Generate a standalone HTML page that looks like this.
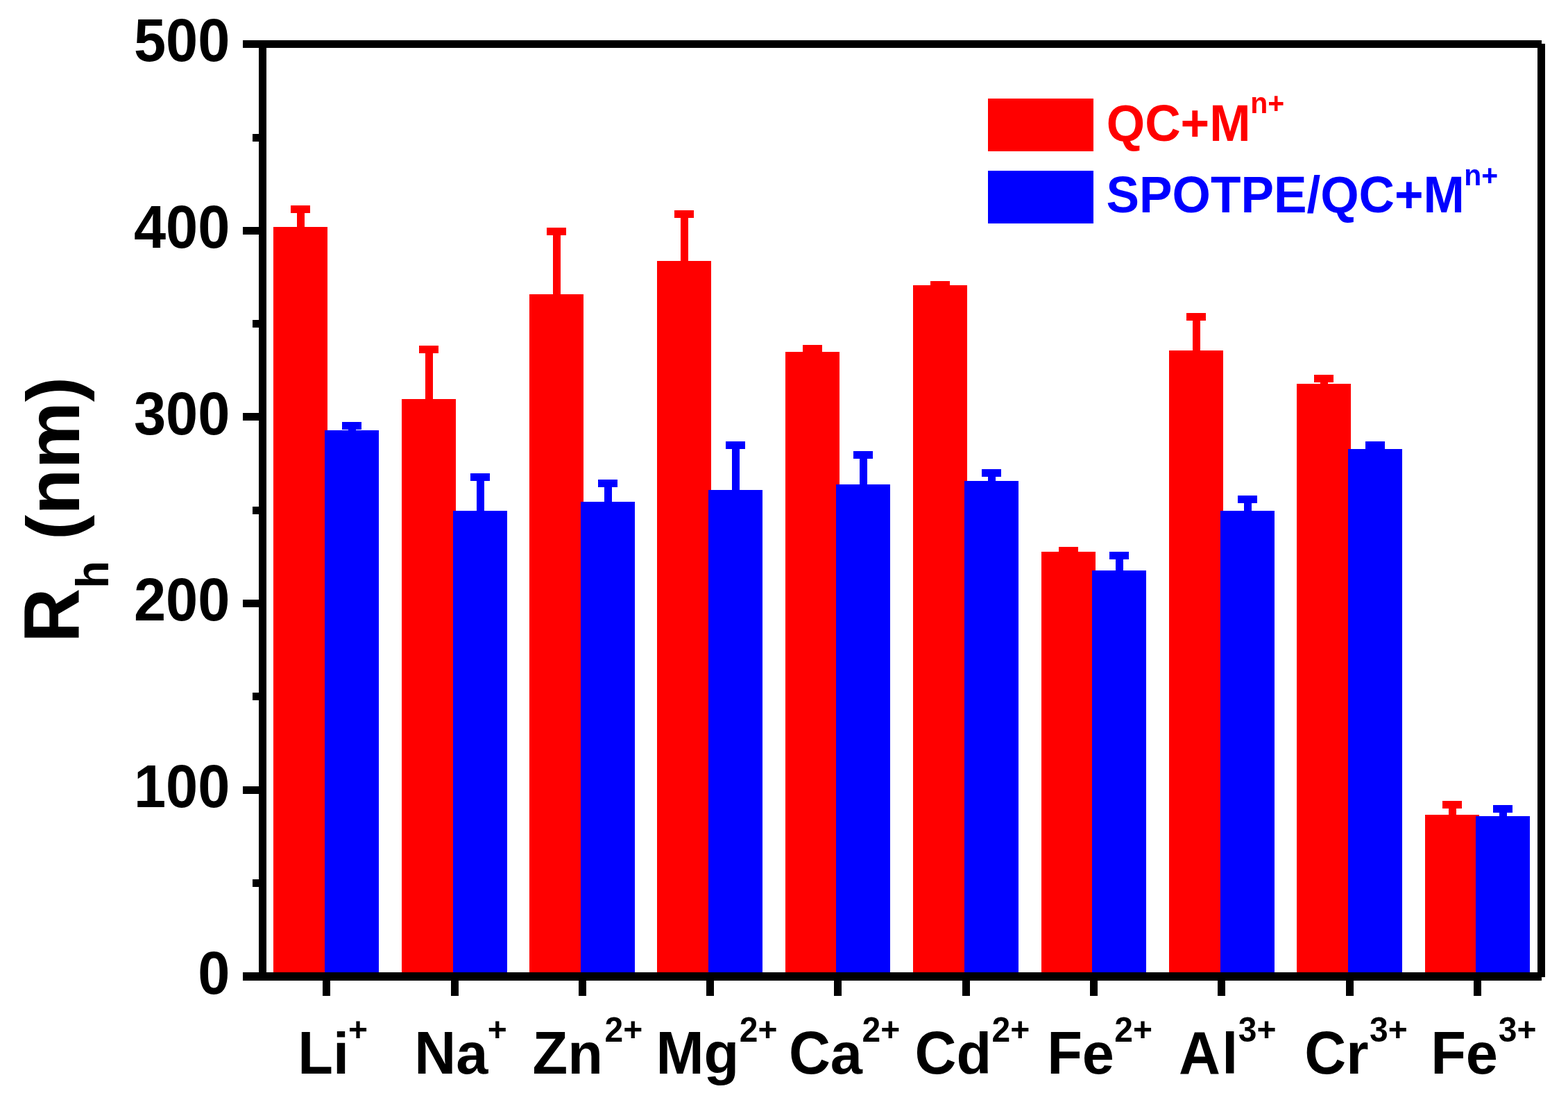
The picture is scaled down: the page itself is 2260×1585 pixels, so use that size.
<!DOCTYPE html>
<html><head><meta charset="utf-8"><title>Rh bar chart</title>
<style>html,body{margin:0;padding:0;background:#fff;overflow:hidden}svg{display:block}text{font-family:"Liberation Sans",Arial,Helvetica,sans-serif;font-weight:bold}</style></head>
<body>
<svg width="2260" height="1585" viewBox="0 0 2260 1585" shape-rendering="crispEdges">
<rect x="0" y="0" width="2260" height="1585" fill="#fff"/>
<g id="bars">
<rect x="394" y="327" width="78" height="1074" fill="#ff0000"/><rect x="427.5" y="296" width="11" height="32" fill="#ff0000"/><rect x="419" y="296" width="28" height="11" fill="#ff0000"/><rect x="468" y="620" width="78" height="781" fill="#0000ff"/><rect x="501.5" y="608" width="11" height="13" fill="#0000ff"/><rect x="493" y="608" width="28" height="11" fill="#0000ff"/>
<rect x="579" y="575" width="78" height="826" fill="#ff0000"/><rect x="612.5" y="498" width="11" height="78" fill="#ff0000"/><rect x="604" y="498" width="28" height="11" fill="#ff0000"/><rect x="653" y="736" width="78" height="665" fill="#0000ff"/><rect x="686.5" y="682" width="11" height="55" fill="#0000ff"/><rect x="678" y="682" width="28" height="11" fill="#0000ff"/>
<rect x="763" y="424" width="78" height="977" fill="#ff0000"/><rect x="796.5" y="328" width="11" height="97" fill="#ff0000"/><rect x="788" y="328" width="28" height="11" fill="#ff0000"/><rect x="837" y="723" width="78" height="678" fill="#0000ff"/><rect x="870.5" y="691" width="11" height="33" fill="#0000ff"/><rect x="862" y="691" width="28" height="11" fill="#0000ff"/>
<rect x="947" y="376" width="78" height="1025" fill="#ff0000"/><rect x="980.5" y="303" width="11" height="74" fill="#ff0000"/><rect x="972" y="303" width="28" height="11" fill="#ff0000"/><rect x="1021" y="706" width="78" height="695" fill="#0000ff"/><rect x="1054.5" y="636" width="11" height="71" fill="#0000ff"/><rect x="1046" y="636" width="28" height="11" fill="#0000ff"/>
<rect x="1132" y="507" width="78" height="894" fill="#ff0000"/><rect x="1157" y="497" width="28" height="11" fill="#ff0000"/><rect x="1205" y="698" width="78" height="703" fill="#0000ff"/><rect x="1238.5" y="650" width="11" height="49" fill="#0000ff"/><rect x="1230" y="650" width="28" height="11" fill="#0000ff"/>
<rect x="1316" y="411" width="78" height="990" fill="#ff0000"/><rect x="1341" y="405" width="28" height="11" fill="#ff0000"/><rect x="1390" y="693" width="78" height="708" fill="#0000ff"/><rect x="1423.5" y="676" width="11" height="18" fill="#0000ff"/><rect x="1415" y="676" width="28" height="11" fill="#0000ff"/>
<rect x="1501" y="795" width="78" height="606" fill="#ff0000"/><rect x="1526" y="788" width="28" height="11" fill="#ff0000"/><rect x="1574" y="822" width="78" height="579" fill="#0000ff"/><rect x="1607.5" y="795" width="11" height="28" fill="#0000ff"/><rect x="1599" y="795" width="28" height="11" fill="#0000ff"/>
<rect x="1685" y="505" width="78" height="896" fill="#ff0000"/><rect x="1718.5" y="451" width="11" height="55" fill="#ff0000"/><rect x="1710" y="451" width="28" height="11" fill="#ff0000"/><rect x="1759" y="736" width="78" height="665" fill="#0000ff"/><rect x="1792.5" y="714" width="11" height="23" fill="#0000ff"/><rect x="1784" y="714" width="28" height="11" fill="#0000ff"/>
<rect x="1869" y="553" width="78" height="848" fill="#ff0000"/><rect x="1902.5" y="540" width="11" height="14" fill="#ff0000"/><rect x="1894" y="540" width="28" height="11" fill="#ff0000"/><rect x="1943" y="647" width="78" height="754" fill="#0000ff"/><rect x="1968" y="636" width="28" height="11" fill="#0000ff"/>
<rect x="2054" y="1174" width="78" height="227" fill="#ff0000"/><rect x="2087.5" y="1154" width="11" height="21" fill="#ff0000"/><rect x="2079" y="1154" width="28" height="11" fill="#ff0000"/><rect x="2127" y="1176" width="78" height="225" fill="#0000ff"/><rect x="2160.5" y="1160" width="11" height="17" fill="#0000ff"/><rect x="2152" y="1160" width="28" height="11" fill="#0000ff"/>
</g>
<g id="axes" fill="#000">
<rect x="350" y="58" width="1872" height="11"/>
<rect x="350" y="1401" width="1872" height="12"/>
<rect x="373" y="58" width="11" height="1355"/>
<rect x="2216" y="63" width="11" height="1345"/>
<rect x="350" y="1133" width="24" height="11"/><rect x="350" y="864" width="24" height="11"/><rect x="350" y="595" width="24" height="11"/><rect x="350" y="327" width="24" height="11"/><rect x="364" y="1267" width="10" height="11"/><rect x="364" y="998" width="10" height="11"/><rect x="364" y="730" width="10" height="11"/><rect x="364" y="461" width="10" height="11"/><rect x="364" y="193" width="10" height="11"/>
<rect x="465.1" y="1412" width="11" height="23"/><rect x="649.5" y="1412" width="11" height="23"/><rect x="833.8" y="1412" width="11" height="23"/><rect x="1018.1" y="1412" width="11" height="23"/><rect x="1202.3" y="1412" width="11" height="23"/><rect x="1386.7" y="1412" width="11" height="23"/><rect x="1571.0" y="1412" width="11" height="23"/><rect x="1755.2" y="1412" width="11" height="23"/><rect x="1939.6" y="1412" width="11" height="23"/><rect x="2123.8" y="1412" width="11" height="23"/>
</g>
<g id="yticklabels" font-size="83" text-anchor="end" fill="#000">
<text transform="translate(331.4 1431.8) scale(1 1.04)">0</text>
<text transform="translate(331.4 1163.1) scale(1 1.04)">100</text>
<text transform="translate(331.4 894.4) scale(1 1.04)">200</text>
<text transform="translate(331.4 625.7) scale(1 1.04)">300</text>
<text transform="translate(331.4 357.0) scale(1 1.04)">400</text>
<text transform="translate(331.4 88.3) scale(1 1.04)">500</text>
</g>
<g id="xticklabels" fill="#000">
<text font-size="83" transform="translate(429.2 1547) scale(1 1.04)">L</text><text font-size="83" transform="translate(479.90 1547) scale(1 1.0)">i</text><text font-size="48" transform="translate(502.00 1500) scale(1 1.0)">+</text>
<text font-size="83" transform="translate(597.25 1547) scale(1 1.04)">N</text><text font-size="83" transform="translate(657.19 1547) scale(1 1.0)">a</text><text font-size="48" transform="translate(702.80 1500) scale(1 1.0)">+</text>
<text font-size="83" transform="translate(767.5 1547) scale(1 1.04)">Z</text><text font-size="83" transform="translate(818.20 1547) scale(1 1.0)">n</text><text font-size="48" transform="translate(871.6 1501) scale(1 1.04)">2</text><text font-size="48" transform="translate(898.30 1500) scale(1 1.0)">+</text>
<text font-size="83" transform="translate(945.45 1547) scale(1 1.04)">M</text><text font-size="83" transform="translate(1014.59 1547) scale(1 1.0)">g</text><text font-size="48" transform="translate(1065.7 1501) scale(1 1.04)">2</text><text font-size="48" transform="translate(1092.40 1500) scale(1 1.0)">+</text>
<text font-size="83" transform="translate(1136.9 1547) scale(1 1.04)">C</text><text font-size="83" transform="translate(1196.84 1547) scale(1 1.0)">a</text><text font-size="48" transform="translate(1242.5 1501) scale(1 1.04)">2</text><text font-size="48" transform="translate(1269.20 1500) scale(1 1.0)">+</text>
<text font-size="83" transform="translate(1318.5 1547) scale(1 1.04)">C</text><text font-size="83" transform="translate(1378.44 1547) scale(1 1.0)">d</text><text font-size="48" transform="translate(1429.6 1501) scale(1 1.04)">2</text><text font-size="48" transform="translate(1456.30 1500) scale(1 1.0)">+</text>
<text font-size="83" transform="translate(1509.15 1547) scale(1 1.04)">F</text><text font-size="83" transform="translate(1559.85 1547) scale(1 1.0)">e</text><text font-size="48" transform="translate(1606.2 1501) scale(1 1.04)">2</text><text font-size="48" transform="translate(1632.90 1500) scale(1 1.0)">+</text>
<text font-size="83" transform="translate(1698.9 1547) scale(1 1.04)">A</text><text font-size="83" transform="translate(1761.34 1547) scale(1 1.0)">l</text><text font-size="48" transform="translate(1784.8 1501) scale(1 1.04)">3</text><text font-size="48" transform="translate(1811.50 1500) scale(1 1.0)">+</text>
<text font-size="83" transform="translate(1880.3 1547) scale(1 1.04)">C</text><text font-size="83" transform="translate(1940.24 1547) scale(1 1.0)">r</text><text font-size="48" transform="translate(1974.1 1501) scale(1 1.04)">3</text><text font-size="48" transform="translate(2000.80 1500) scale(1 1.0)">+</text>
<text font-size="83" transform="translate(2062.15 1547) scale(1 1.04)">F</text><text font-size="83" transform="translate(2112.85 1547) scale(1 1.0)">e</text><text font-size="48" transform="translate(2159.8 1501) scale(1 1.04)">3</text><text font-size="48" transform="translate(2186.50 1500) scale(1 1.0)">+</text>
</g>
<g id="ytitle" fill="#000">
<text font-size="108.5" transform="translate(114.3 926.1) rotate(-90) scale(1 1.045)">R</text><text font-size="65" transform="translate(155.8 847.74) rotate(-90) scale(1 1.02)">h</text><text font-size="108.5" transform="translate(113.6 777.90) rotate(-90) scale(1 0.99)">(nm)</text>
</g>
<g id="legend">
<rect x="1424" y="142" width="152" height="76" rx="1.5" fill="#ff0000"/>
<rect x="1424" y="246" width="152" height="76" rx="1.5" fill="#0000ff"/>
<text font-size="71.2" fill="#ff0000" transform="translate(1594.8 202.7) scale(1 1.04)">QC+M</text><text font-size="41" fill="#ff0000" transform="translate(1802.2 162.8) scale(1 1.04)">n+</text>
<text font-size="71.2" fill="#0000ff" transform="translate(1594.6 306.2) scale(1 1.04)">SPOTPE/QC+M</text><text font-size="41" fill="#0000ff" transform="translate(2110.3 266.9) scale(1 1.04)">n+</text>
</g>
</svg>
</body></html>
